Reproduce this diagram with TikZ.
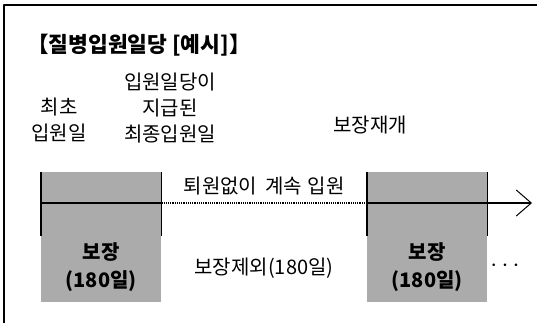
\documentclass[tikz,border=0pt]{standalone}
\usepackage{fontspec}
\setmainfont{Noto Sans CJK KR}
\usetikzlibrary{arrows.meta,positioning,calc}
\definecolor{boxgray}{RGB}{171,171,171}
\tikzset{
  txt/.style={align=center,inner sep=0pt,font=\fontsize{20}{26}\selectfont},
  covbox/.style={fill=boxgray,minimum width=120pt,minimum height=130pt,inner sep=0pt,anchor=north west},
  tick/.style={line width=1.4pt},
  timeline/.style={line width=1.4pt}
}

\begin{document}
\begin{tikzpicture}[x=1pt,y=-1pt,line join=round]
\useasboundingbox (0,0) rectangle (537,323);
% frame
\coordinate (fb) at (4,323);
\coordinate (fc) at (4,5);
\coordinate (fr) at (537,5);
\draw[line width=1.6pt] (fb)--(fc)--(fr);
% title
\node[txt,anchor=west,font=\fontsize{21.5}{24}\selectfont\bfseries] (title) at (27,45) {【질병입원일당 [예시]】};
% boxes
\node[covbox] (cov1) at (41,172) {};
\node[covbox] (cov2) at (367,172) {};
\node[txt,font=\fontsize{20}{28}\selectfont\bfseries] (cov1t) at ($(cov1.south)+(0,-35)$) {보장\\(180일)};
\node[txt,font=\fontsize{20}{28}\selectfont\bfseries] (cov2t) at ($(cov2.south)+(0,-35)$) {보장\\(180일)};
% ticks
\coordinate (k1) at ($(cov1.north west)+(0,64)$);
\coordinate (k2) at ($(cov1.north east)+(0,64)$);
\coordinate (k3) at ($(cov2.north west)+(0,64)$);
\coordinate (k4) at ($(cov2.north east)+(0,64)$);
\draw[tick] (cov1.north west)--(k1);
\draw[tick] (cov1.north east)--(k2);
\draw[tick] (cov2.north west)--(k3);
\draw[tick] (cov2.north east)--(k4);
% timeline
\coordinate (s) at ($(cov1.north west)+(0,31)$);
\coordinate (d1) at ($(cov1.north east)+(0,31)$);
\coordinate (d2) at ($(cov2.north west)+(0,31)$);
\coordinate (e) at (532,203);
\draw[timeline] (s)--(d1);
\draw[line width=1.2pt,dash pattern=on 1.2pt off 1pt] (d1)--(d2);
\draw[timeline,-{Straight Barb[length=15pt,width=26pt,line width=1pt]}] (d2)--(e);
% labels
\node[txt] (first) at (59,120) {최초\\입원일};
\node[txt] (last) at (170,108) {입원일당이\\지급된\\최종입원일};
\node[txt] (resume) at (370,125) {보장재개};
\node[txt] (stay) at ($(d1)!0.5!(d2)+(0,-17)$) {퇴원없이\hspace{0.4em}계속\hspace{0.3em}입원};
\node[txt] (excl) at (264,268) {보장제외(180일)};
\node[txt,font=\fontsize{26}{26}\selectfont] (more) at (505,266) {$\cdots$};
\end{tikzpicture}
\end{document}
